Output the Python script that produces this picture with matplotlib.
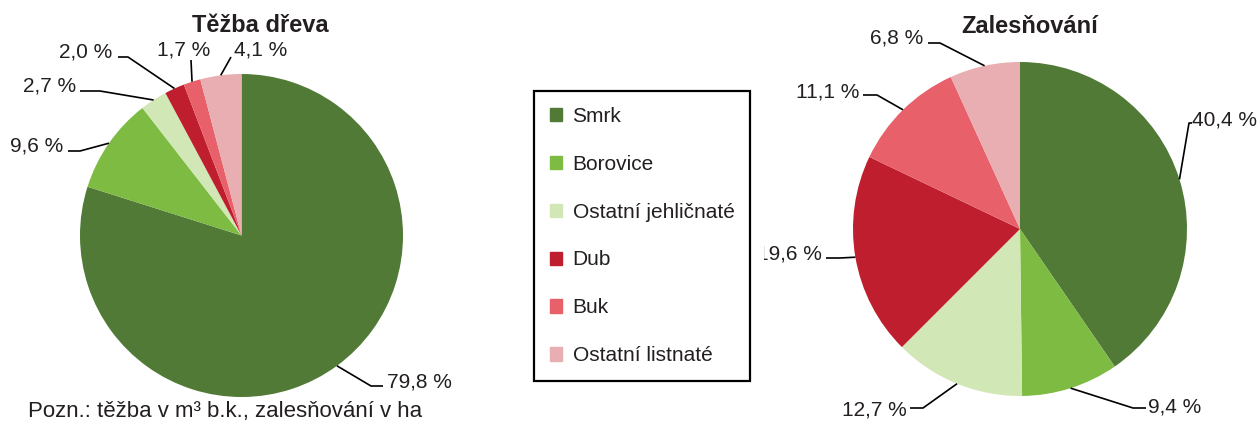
import matplotlib
matplotlib.use("Agg")
import matplotlib.pyplot as plt
import numpy as np

plt.rcParams['font.family'] = ['Liberation Sans', 'DejaVu Sans']

categories = ["Smrk", "Borovice", "Ostatní jehličnaté", "Dub", "Buk", "Ostatní listnaté"]
colors = ["#507a36", "#7dbb42", "#d2e7b6", "#be1e2d", "#e8606a", "#e8aeb2"]

tezba = [79.8, 9.6, 2.7, 2.0, 1.7, 4.1]
zalesnovani = [40.4, 9.4, 12.7, 19.6, 11.1, 6.8]

TXT = "#231f20"
W, H = 1260, 421

fig = plt.figure(figsize=(12.6, 4.21), dpi=100)


def px(cx, cy, r, x, y):
    return (x - cx) / r, (cy - y) / r


def draw_pie(x0, x1, values, cx, cy, r, layout, title, title_xy):
    # axes in pixel box, data units = pie radius, origin = pie centre
    ax = fig.add_axes([x0 / W, 0, (x1 - x0) / W, 1])
    wedges, _ = ax.pie(values, colors=colors, startangle=90, counterclock=False,
                       radius=1, wedgeprops=dict(linewidth=0))
    ax.set_aspect("auto")
    ax.set_xlim((x0 - cx) / r, (x1 - cx) / r)
    ax.set_ylim((cy - H) / r, cy / r)
    ax.set_axis_off()
    ax.patch.set_visible(False)
    for w, v, (tx, ty, ha, pts, clip) in zip(wedges, values, layout):
        ang = np.deg2rad((w.theta1 + w.theta2) / 2)
        xs = [np.cos(ang)] + [px(cx, cy, r, p[0], p[1])[0] for p in pts]
        ys = [np.sin(ang)] + [px(cx, cy, r, p[0], p[1])[1] for p in pts]
        ax.plot(xs, ys, color="black", lw=1.2, clip_on=False, solid_capstyle="butt")
        lx, ly = px(cx, cy, r, tx, ty)
        lbl = f"{v:.1f}".replace(".", ",") + " %"
        ax.text(lx, ly, lbl, ha=ha, va="baseline", fontsize=15, color=TXT, clip_on=clip)
    tx, ty = px(cx, cy, r, *title_xy)
    ax.text(tx, ty, title, ha="center", va="baseline", fontsize=17,
            fontweight="bold", color=TXT, clip_on=False)
    return ax


# left pie: Těžba dřeva
lcx, lcy, lr = 241.5, 235.5, 161.5
left_layout = [
    (387, 387, "left", [(371, 386), (383, 386)], False),
    (63, 152, "right", [(80, 151), (68, 151)], False),
    (76, 92, "right", [(100, 91), (80, 91)], False),
    (112, 57, "right", [(128, 57), (118, 57)], False),
    (184, 55, "center", [(191, 60)], False),
    (234, 55, "left", [(231, 57)], False),
]
ax1 = draw_pie(0, 505, tezba, lcx, lcy, lr, left_layout, "Těžba dřeva", (260, 32))

# right pie: Zalesňování
rcx, rcy, rr = 1020, 229, 167
right_layout = [
    (1192, 126, "left", [(1189, 123), (1192, 123)], False),
    (1148, 412, "left", [(1133, 408), (1146, 408)], False),
    (907, 415, "right", [(923, 408), (910, 408)], False),
    (822, 260, "right", [(840, 258), (826, 258)], True),
    (859, 97, "right", [(877, 95), (863, 95)], False),
    (923, 43, "right", [(940, 43), (928, 43)], False),
]
ax2 = draw_pie(764, 1260, zalesnovani, rcx, rcy, rr, right_layout, "Zalesňování", (1030, 33))

# legend
handles = [plt.Rectangle((0, 0), 1, 1, color=c) for c in colors]
leg = fig.legend(handles, categories, loc="center",
                 bbox_to_anchor=(642 / W, 1 - 236 / H),
                 fontsize=15, frameon=True, fancybox=False, framealpha=1,
                 edgecolor="black", handlelength=0.6, handleheight=0.6,
                 handletextpad=0.5, labelspacing=1.39, borderpad=0.75,
                 labelcolor=TXT)
leg.get_frame().set_linewidth(1.6)

fig.text(28 / W, 1 - 417 / H, "Pozn.: těžba v m³ b.k., zalesňování v ha",
         fontsize=16, color=TXT, va="baseline", ha="left")

plt.savefig("out.png", dpi=100)
